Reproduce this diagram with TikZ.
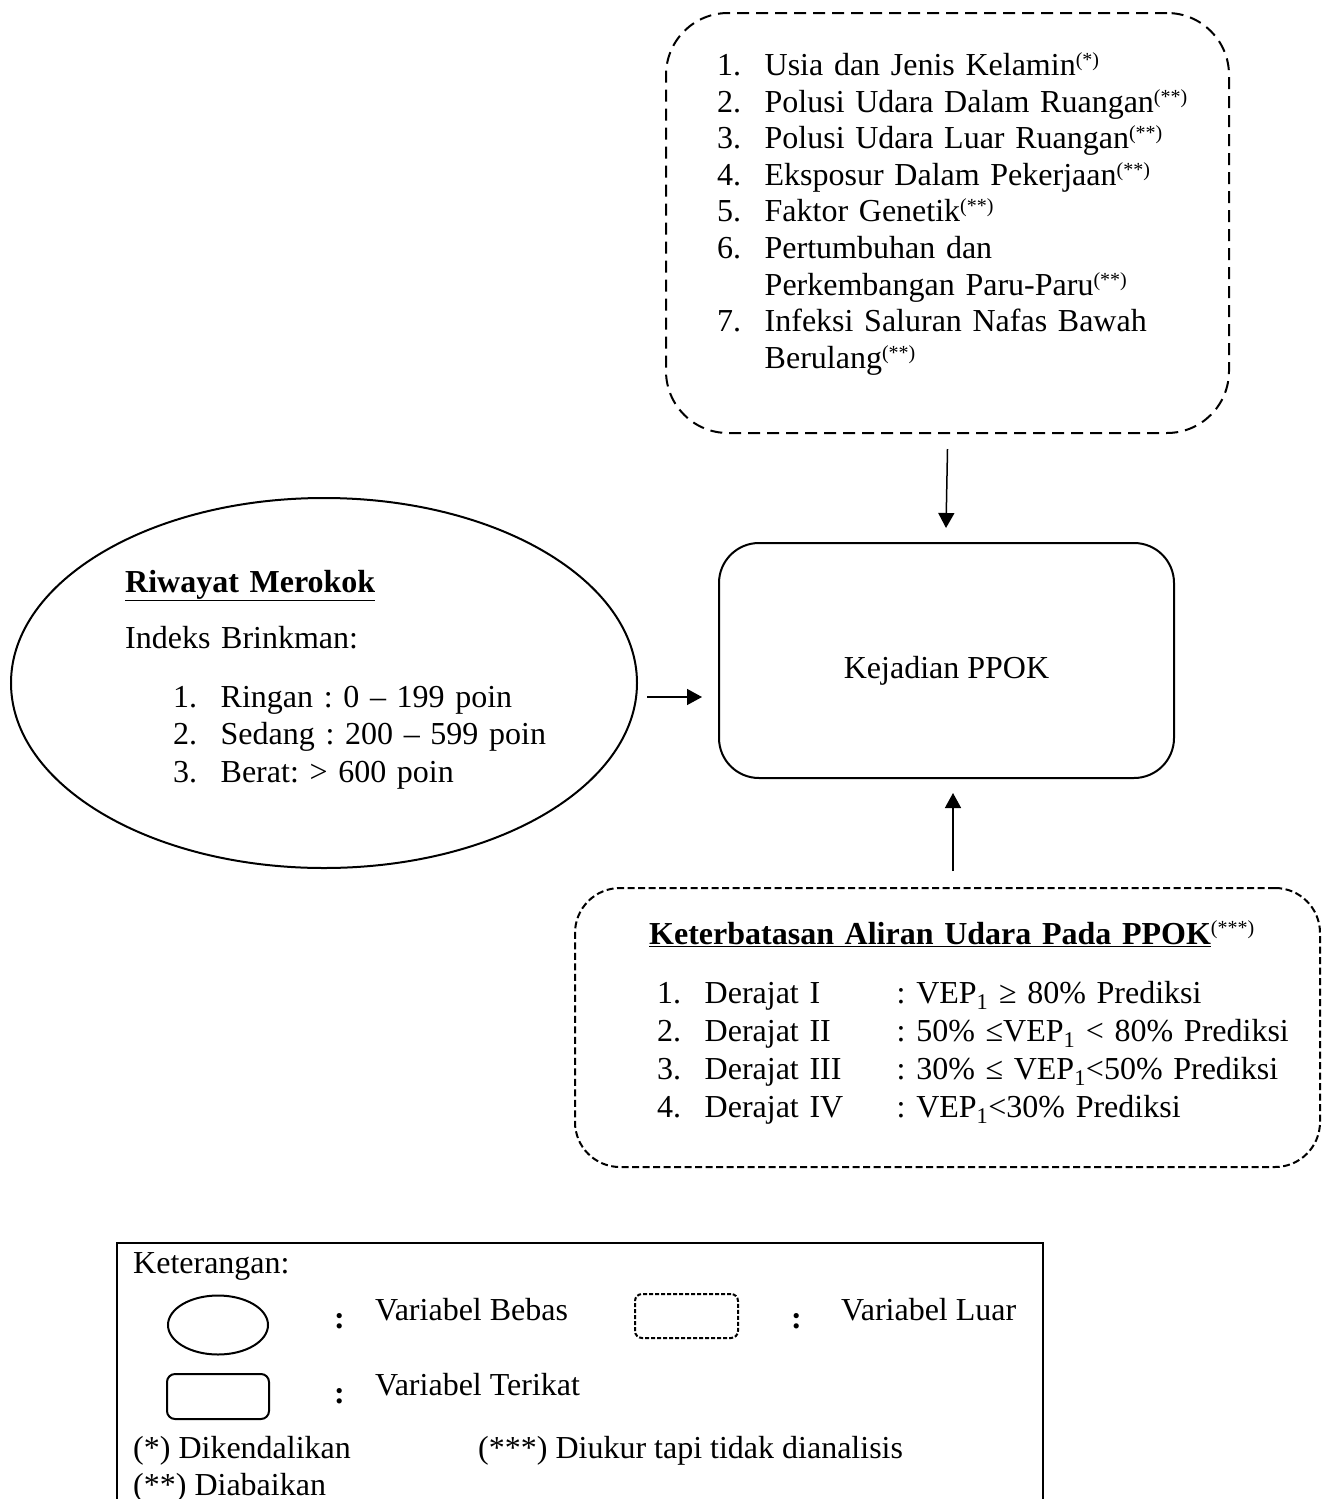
\documentclass[tikz,border=0pt]{standalone}
\usepackage{fontspec}
\setmainfont{Liberation Serif}
\usetikzlibrary{positioning, shapes.geometric, arrows.meta, calc}

\newcommand{\fnote}[1]{\textsuperscript{\fontsize{20}{20}\selectfont(#1)}}
\newcommand{\lnum}[1]{\makebox[47.5pt][l]{#1}}
\frenchspacing

\begin{document}
\begin{tikzpicture}[
    x=1pt, y=-1pt,
    >={Triangle[length=15pt,width=16pt]},
    every node/.style={
        font=\fontsize{32}{36.6}\selectfont,
        inner sep=0pt
    },
    arrow/.style={
        ->,
        line width=1.5pt
    },
    outer/.style={
        rectangle,
        draw,
        line width=2pt,
        rounded corners=62pt,
        dash pattern=on 12pt off 7pt
    },
    outerlow/.style={
        outer,
        rounded corners=45pt,
        dash pattern=on 7pt off 3.5pt
    },
    dep/.style={
        rectangle,
        draw,
        line width=2pt,
        rounded corners=40pt
    },
    indep/.style={
        ellipse,
        draw,
        line width=2pt
    },
    txt/.style={
        anchor=base west,
        align=left
    },
    sep/.style={
        txt,
        font=\fontsize{32}{36.6}\selectfont\bfseries
    }
]

    \useasboundingbox (0,0) rectangle (1323,1499);

    % Variabel luar
    \node[outer, minimum width=563, minimum height=420] (ext) at (947.5,223) {};
    \node[txt, text width=480pt] (extlist) at (717,75.5) {%
        \lnum{1.}Usia dan Jenis Kelamin\fnote{*}\\
        \lnum{2.}Polusi Udara Dalam Ruangan\fnote{**}\\
        \lnum{3.}Polusi Udara Luar Ruangan\fnote{**}\\
        \lnum{4.}Eksposur Dalam Pekerjaan\fnote{**}\\
        \lnum{5.}Faktor Genetik\fnote{**}\\
        \lnum{6.}Pertumbuhan dan\\
        \hspace*{47.5pt}Perkembangan Paru-Paru\fnote{**}\\
        \lnum{7.}Infeksi Saluran Nafas Bawah\\
        \hspace*{47.5pt}Berulang\fnote{**}};

    % Variabel terikat
    \node[dep, minimum width=455, minimum height=235,
          text height=42pt, text depth=7pt] (ppok) at (946.5,660.5) {Kejadian PPOK};

    % Variabel bebas
    \node[indep, minimum width=626, minimum height=370] (smoke) at (324,683) {};
    \node[txt, text width=460pt, font=\fontsize{32}{37.5}\selectfont] (smokelist) at (125,592) {%
        \underline{\textbf{Riwayat Merokok}}\\[18.5pt]
        Indeks Brinkman:\\[21.5pt]
        \hspace*{48pt}\lnum{1.}Ringan : 0 – 199 poin\\
        \hspace*{48pt}\lnum{2.}Sedang : 200 – 599 poin\\
        \hspace*{48pt}\lnum{3.}Berat: > 600 poin};

    % Keterbatasan aliran udara
    \node[outerlow, minimum width=745, minimum height=279] (flow) at (947.5,1027.5) {};
    \node[txt, text width=660pt, font=\fontsize{32}{38}\selectfont] (flowlist) at (649,944) {%
        \underline{\textbf{Keterbatasan Aliran Udara Pada PPOK}}\fnote{***}\\[21pt]
        \hspace*{8pt}\lnum{1.}\makebox[192pt][l]{Derajat I}: VEP\textsubscript{1} ≥ 80\% Prediksi\\
        \hspace*{8pt}\lnum{2.}\makebox[192pt][l]{Derajat II}: 50\% ≤VEP\textsubscript{1} < 80\% Prediksi\\
        \hspace*{8pt}\lnum{3.}\makebox[192pt][l]{Derajat III}: 30\% ≤ VEP\textsubscript{1}<50\% Prediksi\\
        \hspace*{8pt}\lnum{4.}\makebox[192pt][l]{Derajat IV}: VEP\textsubscript{1}<30\% Prediksi};

    % Connections
    \draw[arrow] ([yshift=-15pt]ext.south) -- ([xshift=-0.5pt,yshift=14pt]ppok.north);
    \draw[arrow] ([shift={(9,14)}]smoke.east) -- ([shift={(-16,36.5)}]ppok.west);
    \draw[arrow] ([xshift=5.5pt,yshift=16pt]flow.north) -- ([xshift=6.5pt,yshift=-14pt]ppok.south);

    % Keterangan
    \node[rectangle, draw, line width=2pt, minimum width=926, minimum height=277] (legend) at (580,1381.5) {};
    \node[txt] (legtitle) at (133,1273) {Keterangan:};
    \node[indep, minimum width=100, minimum height=59] (legind) at (218,1325) {};
    \node[sep] (colA) at (334,1328) {:};
    \node[txt] (legindtxt) at (375,1320) {Variabel Bebas};
    \node[outer, rounded corners=7pt, dash pattern=on 4pt off 2pt,
          minimum width=103, minimum height=44] (legext) at (686.5,1316) {};
    \node[sep] (colB) at (791,1328) {:};
    \node[txt] (legexttxt) at (841,1320) {Variabel Luar};
    \node[dep, rounded corners=8pt, minimum width=102, minimum height=45] (legdep) at (218,1396.5) {};
    \node[sep] (colC) at (334,1403) {:};
    \node[txt] (legdeptxt) at (375,1395) {Variabel Terikat};
    \node[txt] (noteA) at (133,1458) {(*) Dikendalikan};
    \node[txt] (noteC) at (478,1458) {(***) Diukur tapi tidak dianalisis};
    \node[txt] (noteB) at (133,1495) {(**) Diabaikan};

\end{tikzpicture}
\end{document}
